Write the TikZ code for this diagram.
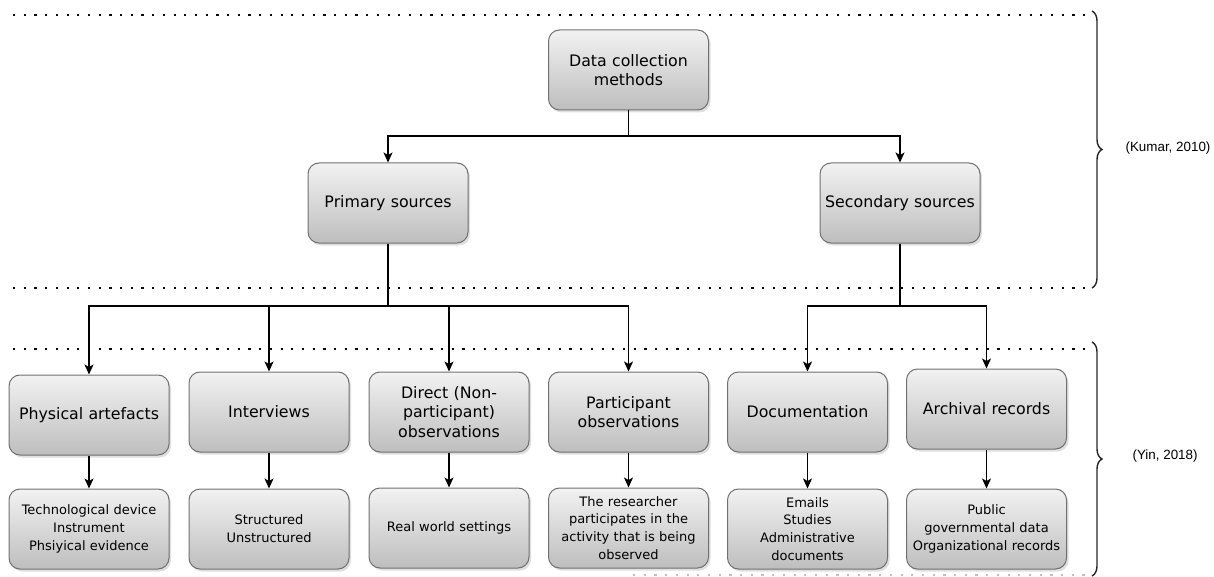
\documentclass[tikz,border=0pt]{standalone}
\usepackage{fontspec}
\setmainfont{DejaVu Sans}
\newfontfamily\citefont{Liberation Sans}
\usetikzlibrary{arrows.meta,shadows,decorations.pathreplacing}

\definecolor{boxborder}{RGB}{112,112,112}
\definecolor{boxtop}{RGB}{242,242,242}
\definecolor{boxbottom}{RGB}{190,190,190}
\definecolor{dotcol}{RGB}{10,10,10}

\begin{document}
\begin{tikzpicture}[x=1pt,y=-1pt,
  box/.style={draw=boxborder, line width=1pt, rounded corners=11pt,
    top color=boxtop, bottom color=boxbottom,
    drop shadow={opacity=0.25, shadow xshift=2pt, shadow yshift=-2.5pt},
    minimum width=160pt, minimum height=80pt, align=center, inner sep=2pt},
  bigbox/.style={box, font=\fontsize{15.8}{19.5}\selectfont, text width=154pt},
  smallbox/.style={box, font=\fontsize{13}{17.8}\selectfont, text width=156pt},
  link/.style={line width=1.4pt, black},
  arrow/.style={link, -{Stealth[length=10pt, width=9pt, inset=2.5pt]}},
  dots/.style={dotcol, line width=2.2pt, dash pattern=on 2.2pt off 8.5pt},
  bracket/.style={decorate, decoration={brace, amplitude=10pt}, line width=1.4pt, black!85},
  cite/.style={font=\citefont\fontsize{13.4}{16}\selectfont, anchor=west}]

\useasboundingbox (0,0) rectangle (1214,577);

% separating dotted rules
\draw[dots] (13,15) -- (1086,15);
\draw[dots] (13,288) -- (1086,288);
\draw[dots] (13,349) -- (1086,349);
\draw[dots, draw=gray!50] (633,575) -- (1086,575);

% level 0 and level 1
\node[bigbox] (dcm) at (628.5,70) {Data collection\\methods};
\node[bigbox] (prim) at (388,203) {Primary sources};
\node[bigbox] (sec) at (900,203) {Secondary sources};

% level 2
\node[bigbox] (phys) at (89,415) {Physical artefacts};
\node[bigbox] (inter) at (269,412) {Interviews};
\node[bigbox] (direct) at (449,412) {Direct (Non-\\participant)\\observations};
\node[bigbox] (part) at (628.5,412) {Participant\\observations};
\node[bigbox] (doc) at (807.5,412) {Documentation};
\node[bigbox] (arch) at (986.5,409) {Archival records};

% level 3
\node[smallbox] (physd) at (89,529) {Technological device\\Instrument\\Phsiyical evidence};
\node[smallbox] (interd) at (269,529) {Structured\\Unstructured};
\node[smallbox] (directd) at (449,528) {Real world settings};
\node[smallbox] (partd) at (628.5,528) {The researcher\\participates in the\\activity that is being\\observed};
\node[smallbox] (docd) at (807.5,529) {Emails\\Studies\\Administrative\\documents};
\node[smallbox] (archd) at (986.5,529) {Public\\governmental data\\Organizational records};

% tree connectors
\draw[link] (dcm.south) -- (dcm.south |- 0,136) coordinate (j0);
\draw[arrow] (j0) -| (prim.north);
\draw[arrow] (j0) -| (sec.north);

\draw[link] (prim.south) -- (prim.south |- 0,306) coordinate (j1);
\foreach \n in {phys,inter,direct,part}
  \draw[arrow] (j1) -| (\n.north);

\draw[link] (sec.south) -- (sec.south |- 0,306) coordinate (j2);
\foreach \n in {doc,arch}
  \draw[arrow] (j2) -| (\n.north);

\foreach \a/\b in {phys/physd,inter/interd,direct/directd,part/partd,doc/docd,arch/archd}
  \draw[arrow] (\a.south) -- (\b.north);

% source braces
\coordinate (b1t) at (1092,11);
\coordinate (b1b) at (1092,288);
\coordinate (b2t) at (1092,342);
\coordinate (b2b) at (1092,576);
\draw[bracket] (b1t) -- (b1b);
\draw[bracket] (b2t) -- (b2b);
\node[cite] (kumar) at (1122,148) {(Kumar, 2010)};
\node[cite] (yin) at (1129,456) {(Yin, 2018)};

\end{tikzpicture}
\end{document}
